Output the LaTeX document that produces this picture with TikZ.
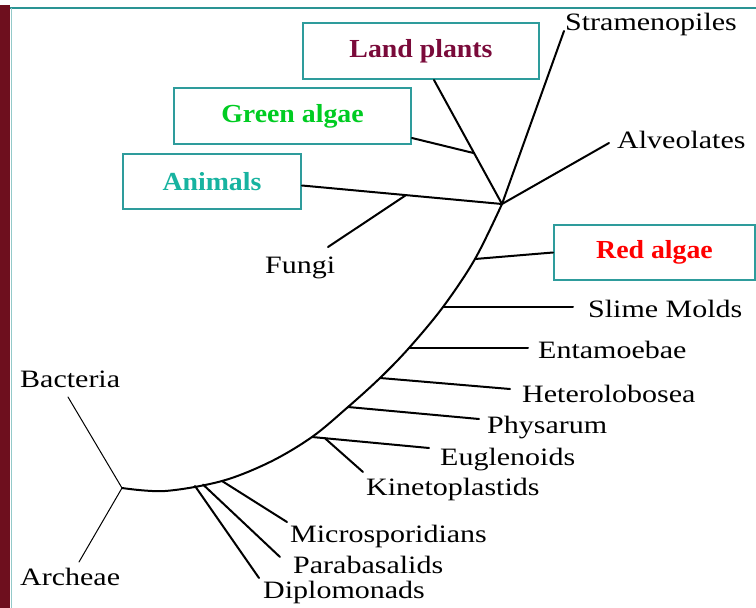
\documentclass[tikz,border=0pt]{standalone}
\usepackage{fontspec}
\setmainfont{Liberation Serif}
\newfontfamily\lblfont[FakeStretch=1.2]{Liberation Serif}
\newfontfamily\boxfont[FakeStretch=1.07]{Liberation Serif}
\definecolor{frameRed}{HTML}{6E0F1E}
\definecolor{frameTeal}{HTML}{2A9494}
\definecolor{boxTeal}{HTML}{2E9C9C}
\definecolor{landCol}{HTML}{7A0A3A}
\definecolor{greenCol}{HTML}{00CC22}
\definecolor{animalCol}{HTML}{17B3A0}
\definecolor{redCol}{HTML}{FF0000}

\begin{document}
\begin{tikzpicture}[
			x=1pt, y=-1pt,
			% Style for the boxed groups
			taxonBox/.style={draw=boxTeal, line width=2pt, fill=white, inner sep=0pt,
				font=\boxfont\bfseries\fontsize{26}{30}\selectfont},
			% Style for the plain labels
			taxonLabel/.style={font=\lblfont\fontsize{25}{30}\selectfont, inner sep=0pt, anchor=base west},
			% Branches of the tree
			branch/.style={line width=2pt, line cap=round},
			thinBranch/.style={line width=1pt, line cap=round}
			]
			\useasboundingbox (0,0) rectangle (756,608);
			
			% ==============================================================================
			% FRAME
			% ==============================================================================
			\fill[frameRed] (0,5) rectangle (10,608);
			\draw[frameTeal, line width=2.5pt] (10,8) -- (756,8);
			\draw[frameTeal!50, line width=1pt] (11.5,8) -- (11.5,608);
			
			% ==============================================================================
			% BOXED GROUPS
			% ==============================================================================
			\node[taxonBox, minimum width=236pt, minimum height=56pt, text=landCol] (land) at (421,51) {Land plants};
			\node[taxonBox, minimum width=237pt, minimum height=56pt, text=greenCol] (green) at (292.5,116) {Green algae};
			\node[taxonBox, minimum width=178pt, minimum height=55pt, text=animalCol] (animals) at (212,181.5) {Animals};
			\node[taxonBox, minimum width=201pt, minimum height=55pt, text=redCol] (red) at (654.5,252.5) {Red algae};
			
			% ==============================================================================
			% PLAIN LABELS
			% ==============================================================================
			\node[taxonLabel] (stram) at (565,30) {Stramenopiles};
			\node[taxonLabel] (alveo) at (617,148) {Alveolates};
			\node[taxonLabel] (fungi) at (265,273) {Fungi};
			\node[taxonLabel] (slime) at (588,317) {Slime Molds};
			\node[taxonLabel] (entam) at (538,358) {Entamoebae};
			\node[taxonLabel] (hetero) at (522,402) {Heterolobosea};
			\node[taxonLabel] (physa) at (487,433) {Physarum};
			\node[taxonLabel] (eugle) at (440,465) {Euglenoids};
			\node[taxonLabel] (kinet) at (366,495) {Kinetoplastids};
			\node[taxonLabel] (micro) at (290,542) {Microsporidians};
			\node[taxonLabel] (parab) at (293,573) {Parabasalids};
			\node[taxonLabel] (diplo) at (263,598) {Diplomonads};
			\node[taxonLabel] (bact) at (20,387) {Bacteria};
			\node[taxonLabel] (arch) at (20,585) {Archeae};
			
			% ==============================================================================
			% TREE: junctions and branch tips
			% ==============================================================================
			\coordinate (hub) at (502,204);
			\coordinate (root) at (122,488);
			\coordinate (bend) at (165,491);
			\coordinate (mid) at (270,462);
			\coordinate (jRed) at (475,259);
			\coordinate (jSlime) at (443,307);
			\coordinate (jEnt) at (409,348);
			\coordinate (jHet) at (380,378);
			\coordinate (jPhy) at (348,407);
			\coordinate (jEug) at (312,437);
			\coordinate (jMic) at (222,481);
			\coordinate (jPar) at (203,484.5);
			\coordinate (jDip) at (195,486);
			
			\coordinate (tStram) at (564,31);
			\coordinate (tAlveo) at (609,143);
			\coordinate (tFungi) at (328,247);
			\coordinate (tSlime) at (573,307);
			\coordinate (tEnt) at (528,348);
			\coordinate (tHet) at (510,389);
			\coordinate (tPhy) at (479,419);
			\coordinate (tEug) at (429,448);
			\coordinate (tKin) at (363,472);
			\coordinate (tMic) at (287,522);
			\coordinate (tPar) at (280,557);
			\coordinate (tDip) at (259,578);
			\coordinate (tBact) at (68,397);
			\coordinate (tArch) at (79,562);
			
			% Main arc from the root up to the crown
			\draw[branch] plot[smooth, tension=0.55] coordinates {(root) (bend) (jMic) (mid) (jEug) (jPhy) (jHet) (jEnt) (jSlime) (jRed) (hub)};
			
			% Crown branches
			\draw[branch] (hub) -- (tStram);
			\draw[branch] (hub) -- (tAlveo);
			\draw[branch] ([xshift=13pt]land.south) -- (hub) coordinate[pos=0.59] (jGreen);
			\draw[branch] ([yshift=7pt]green.south east) -- (jGreen);
			\draw[branch] ([yshift=-4pt]animals.east) -- (hub) coordinate[pos=0.52] (jFungi);
			\draw[branch] (jFungi) -- (tFungi);
			\draw[branch] (jRed) -- (red.west);
			
			% Side branches along the arc
			\draw[branch] (jSlime) -- (tSlime);
			\draw[branch] (jEnt) -- (tEnt);
			\draw[branch] (jHet) -- (tHet);
			\draw[branch] (jPhy) -- (tPhy);
			\draw[branch] (jEug) -- (tEug) coordinate[pos=0.11] (jKin);
			\draw[branch] (jKin) -- (tKin);
			\draw[branch] (jMic) -- (tMic);
			\draw[branch] (jPar) -- (tPar);
			\draw[branch] (jDip) -- (tDip);
			
			% Outgroups
			\draw[thinBranch] (root) -- (tBact);
			\draw[thinBranch] (root) -- (tArch);
			
		\end{tikzpicture}
\end{document}
